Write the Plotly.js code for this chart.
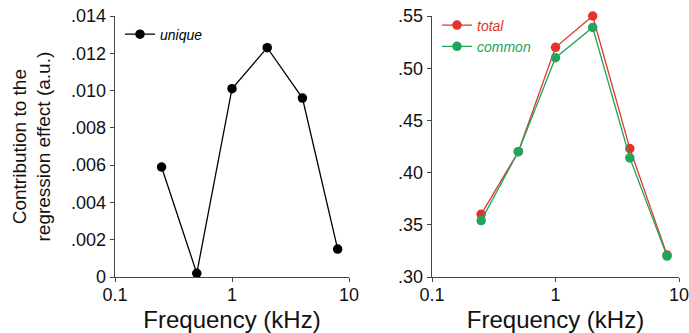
<!DOCTYPE html>
<html><head><meta charset="utf-8">
<script src="https://cdn.plot.ly/plotly-3.0.1.min.js"></script>
<style>html,body{margin:0;padding:0;background:#fff}#c{width:689px;height:333px}</style>
</head><body><div id="c"></div>
<script>
const freq = [0.25, 0.5, 1, 2, 4, 8];
const unique = [0.0059, 0.0002, 0.0101, 0.0123, 0.0096, 0.0015];
const total = [0.360, 0.420, 0.520, 0.550, 0.423, 0.321];
const common = [0.354, 0.420, 0.510, 0.539, 0.414, 0.320];
const xTicks = [0.1, 1, 10];
const xTickText = ['0.1', '1', '10'];
const yLeftTicks = [0, 0.002, 0.004, 0.006, 0.008, 0.010, 0.012, 0.014];
const yLeftText = ['0', '.002', '.004', '.006', '.008', '.010', '.012', '.014'];
const yRightTicks = [0.30, 0.35, 0.40, 0.45, 0.50, 0.55];
const yRightText = ['.30', '.35', '.40', '.45', '.50', '.55'];
const yTitle = 'Contribution to the<br>regression effect (a.u.)';
const xTitle = 'Frequency (kHz)';

const RED = '#e2342b', GREEN = '#1ea65a', BLACK = '#000';
const F = 'Liberation Sans, Arial, sans-serif';

const traces = [
  {x: freq, y: unique, xaxis: 'x', yaxis: 'y', mode: 'lines+markers', name: '<i>unique</i>', cliponaxis: false,
   line: {color: BLACK, width: 1.3}, marker: {color: BLACK, size: 9.5}, legend: 'legend'},
  {x: freq, y: total, xaxis: 'x2', yaxis: 'y2', mode: 'lines+markers', cliponaxis: false,
   name: '<span style="color:' + RED + '"><i>total</i></span>',
   line: {color: RED, width: 1.3}, marker: {color: RED, size: 9.5}, legend: 'legend2'},
  {x: freq, y: common, xaxis: 'x2', yaxis: 'y2', mode: 'lines+markers', cliponaxis: false,
   name: '<span style="color:' + GREEN + '"><i>common</i></span>',
   line: {color: GREEN, width: 1.3}, marker: {color: GREEN, size: 9.5}, legend: 'legend2'}
];

const xbase = {type: 'log', range: [-1, 1], tickvals: xTicks, ticktext: xTickText,
  showgrid: false, zeroline: false, showline: true, linecolor: '#444', linewidth: 1.3,
  ticks: 'outside', ticklen: 4, tickcolor: '#444', ticklabelstandoff: -3, ticklabeloverflow: 'allow',
  tickfont: {family: F, size: 18, color: '#111'},
  title: {text: xTitle, font: {family: F, size: 24, color: '#111'}}};
const ybase = {showgrid: false, zeroline: false, showline: true, linecolor: '#444', linewidth: 1.3,
  ticks: 'outside', ticklen: 4, tickcolor: '#444', tickfont: {family: F, size: 18, color: '#111'}};

const W = 689;
const layout = {
  width: 689, height: 333, paper_bgcolor: '#fff', plot_bgcolor: '#fff',
  margin: {l: 0, r: 0, t: 16, b: 56},
  font: {family: F},
  xaxis: Object.assign({}, xbase, {domain: [115 / W, 349 / W], anchor: 'y'}),
  yaxis: Object.assign({}, ybase, {range: [0, 0.014], tickvals: yLeftTicks, ticktext: yLeftText, anchor: 'x'}),
  xaxis2: Object.assign({}, xbase, {domain: [432 / W, 679 / W], anchor: 'y2'}),
  yaxis2: Object.assign({}, ybase, {range: [0.30, 0.55], tickvals: yRightTicks, ticktext: yRightText, anchor: 'x2'}),
  annotations: [{text: yTitle, textangle: -90, xref: 'paper', yref: 'paper', x: 31 / W, y: 0.5,
    xanchor: 'center', yanchor: 'middle', showarrow: false,
    font: {family: F, size: 19, color: '#111'}}],
  showlegend: true,
  legend: {x: 120 / W, y: 0.99, xanchor: 'left', yanchor: 'top', bgcolor: 'rgba(0,0,0,0)',
    font: {family: F, size: 14, color: BLACK}, itemwidth: 30, tracegroupgap: 0},
  legend2: {x: 437 / W, y: 1.025, xanchor: 'left', yanchor: 'top', bgcolor: 'rgba(0,0,0,0)',
    font: {family: F, size: 14}, itemwidth: 30, tracegroupgap: 0}
};

Plotly.newPlot('c', traces, layout, {displayModeBar: false, staticPlot: true});
</script></body></html>
